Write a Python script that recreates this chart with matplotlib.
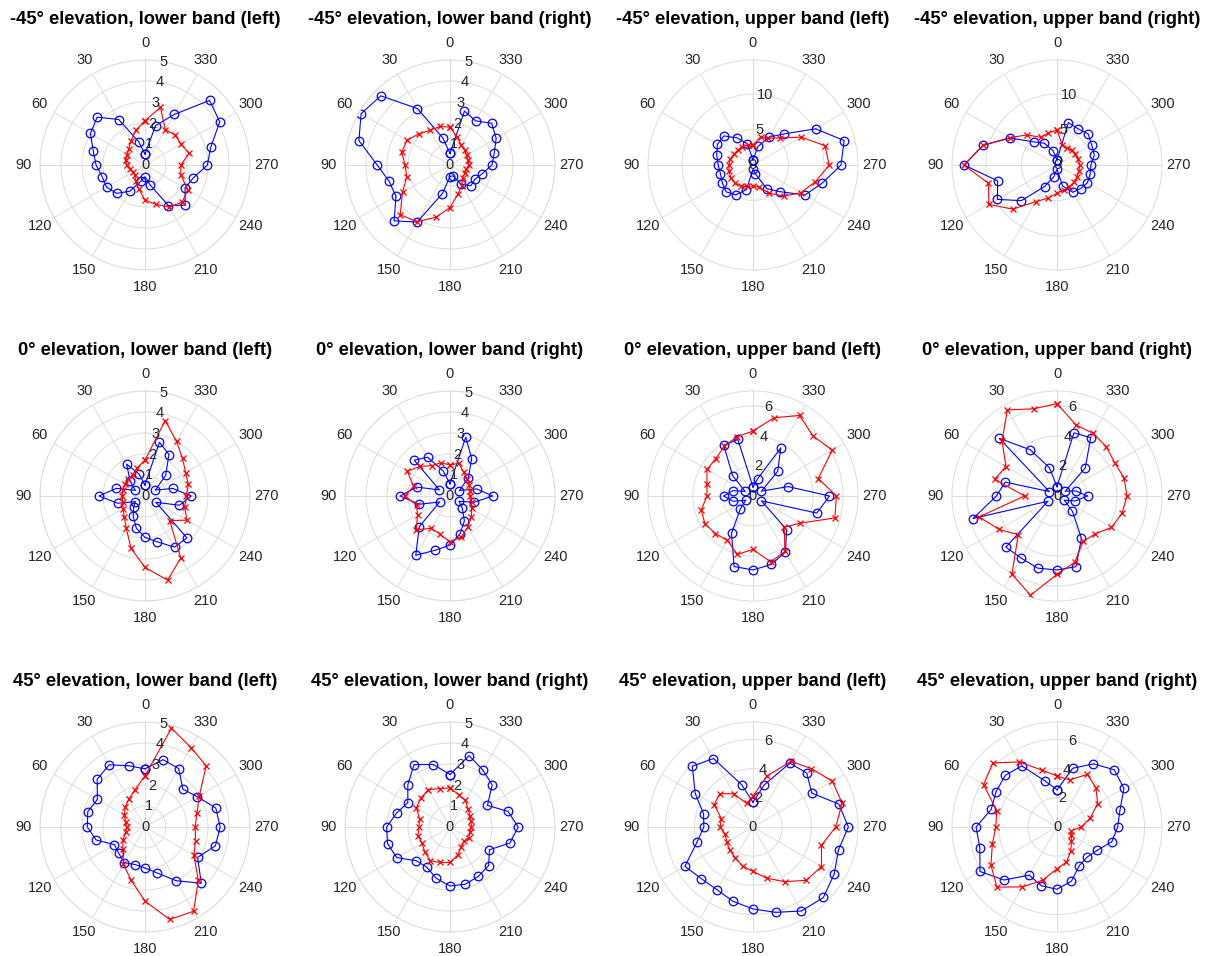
import matplotlib.pyplot as plt
import numpy as np

plt.rcParams["font.family"] = ["Liberation Sans", "DejaVu Sans"]

# measurement angles (degrees, counter-clockwise from the top)
angles = [0, 15, 30, 45, 60, 75, 90, 105, 120, 135, 150, 165,
          180, 195, 210, 225, 240, 255, 270, 285, 300, 315, 330, 345]

# -45 deg elevation
m45_low_left_o = [0.52, 1.14, 2.5, 3.22, 3.0, 2.55, 2.33, 2.12, 2.11, 1.91, 1.44, 0.81,
                  0.56, 1.0, 2.23, 2.71, 2.2, 2.38, 2.97, 3.24, 4.11, 4.35, 2.78, 1.94]
m45_low_left_x = [2.11, 1.71, 1.33, 1.1, 0.99, 0.93, 0.88, 0.75, 0.65, 0.67, 0.9, 1.16,
                  1.67, 1.94, 2.31, 2.5, 2.35, 1.76, 1.71, 2.17, 1.99, 2.02, 1.94, 2.84]
m45_low_right_o = [0.55, 1.34, 3.1, 4.66, 4.89, 4.49, 3.47, 3.0, 2.97, 3.76, 3.14, 1.41,
                   0.55, 0.53, 1.05, 1.4, 1.37, 1.59, 2.0, 2.18, 2.54, 2.81, 2.43, 2.66]
m45_low_right_x = [1.8, 1.9, 1.9, 2.1, 2.36, 2.38, 2.14, 2.13, 2.61, 3.35, 3.12, 2.57,
                   2.03, 1.44, 1.13, 0.85, 0.8, 0.8, 0.9, 0.9, 0.91, 1.0, 1.08, 1.36]
m45_up_left_o = [0.7, 3.1, 4.4, 5.8, 5.8, 5.3, 4.9, 4.75, 5.0, 5.35, 4.86, 3.6,
                 0.6, 1.3, 3.84, 5.3, 8.45, 10.05, 12.4, 13.3, 10.2, 6.2, 4.56, 2.7]
m45_up_left_x = [2.8, 2.9, 3.0, 3.0, 3.1, 3.3, 3.4, 3.5, 3.6, 3.6, 3.4, 3.1,
                 3.0, 3.2, 4.6, 6.2, 7.8, 9.1, 10.75, 10.5, 7.85, 5.4, 4.36, 4.1]
m45_up_right_o = [0.7, 2.07, 3.54, 4.6, 7.6, 10.75, 13.1, 8.66, 9.7, 7.1, 3.5, 1.7,
                  0.6, 3.06, 4.44, 4.7, 4.96, 4.84, 4.77, 5.45, 5.65, 6.2, 5.9, 6.2]
m45_up_right_x = [4.9, 4.7, 4.5, 6.0, 7.7, 10.8, 13.1, 10.0, 11.1, 8.8, 5.95, 4.84,
                  3.97, 3.7, 3.5, 3.4, 3.3, 3.2, 3.2, 3.1, 3.0, 2.9, 2.8, 2.9]

# 0 deg elevation
z_low_left_o = [0.52, 1.08, 1.75, 1.0, 0.53, 1.41, 2.19, 1.34, 0.53, 0.77, 1.12, 1.59,
                1.97, 2.26, 2.81, 2.82, 0.6, 1.7, 2.2, 1.38, 0.57, 1.39, 2.28, 2.65]
z_low_left_x = [1.71, 1.4, 1.18, 1.12, 1.1, 1.09, 1.08, 1.1, 1.2, 1.4, 1.78, 2.58,
                3.4, 4.15, 3.41, 1.66, 2.3, 1.96, 1.97, 2.14, 2.23, 2.53, 3.0, 3.72]
z_low_right_o = [0.58, 1.22, 2.13, 2.41, 0.58, 1.64, 2.38, 1.52, 0.57, 2.07, 3.26, 2.67,
                 2.34, 1.86, 1.37, 0.83, 0.5, 1.17, 2.03, 1.31, 0.52, 1.24, 2.06, 2.9]
z_low_right_x = [1.47, 1.65, 1.67, 2.0, 2.35, 1.79, 2.16, 1.65, 1.78, 2.27, 1.78, 1.88,
                 2.19, 2.03, 1.7, 1.44, 1.19, 1.06, 0.94, 1.0, 1.05, 1.16, 1.31, 1.62]
z_up_left_o = [0.6, 3.9, 3.9, 1.92, 0.61, 1.39, 1.96, 1.37, 0.56, 1.18, 2.86, 4.87,
               4.93, 4.72, 4.32, 3.17, 0.65, 4.4, 5.1, 2.42, 0.65, 2.33, 3.7, 1.2]
z_up_left_x = [4.33, 4.09, 3.82, 3.52, 3.54, 3.18, 3.07, 3.57, 3.7, 3.54, 3.42, 4.03,
               3.56, 4.55, 4.26, 2.94, 3.62, 5.65, 5.56, 4.5, 6.1, 5.66, 6.2, 5.4]
z_up_right_o = [0.62, 1.95, 3.55, 5.44, 0.59, 3.58, 4.04, 5.8, 0.69, 4.82, 4.78, 4.98,
                4.93, 4.88, 3.26, 1.46, 0.56, 1.27, 2.04, 1.3, 0.64, 2.67, 4.49, 4.36]
z_up_right_x = [6.16, 6.02, 6.62, 5.18, 3.93, 4.3, 2.16, 5.37, 4.46, 3.65, 6.01, 6.85,
                5.22, 4.57, 3.49, 3.58, 4.19, 4.48, 4.67, 4.63, 4.44, 4.65, 4.82, 4.9]

# +45 deg elevation
p45_low_left_o = [2.77, 3.02, 3.42, 3.22, 2.62, 2.82, 2.75, 2.4, 1.68, 1.77, 1.96, 1.85,
                  1.95, 2.27, 2.95, 3.79, 2.89, 3.47, 3.58, 3.49, 2.88, 2.55, 3.21, 3.32]
p45_low_left_x = [2.44, 1.84, 1.54, 1.33, 1.14, 0.95, 0.87, 0.95, 1.2, 1.5, 2.05, 2.6,
                  3.53, 4.56, 4.63, 3.59, 2.69, 2.49, 2.39, 2.56, 2.99, 4.12, 4.37, 4.87]
p45_low_right_o = [2.5, 3.08, 3.43, 2.84, 2.32, 2.62, 3.02, 3.08, 2.92, 2.27, 2.21, 2.53,
                   2.81, 2.82, 2.71, 2.6, 2.17, 2.95, 3.25, 2.86, 2.06, 2.84, 3.13, 3.52]
p45_low_right_x = [1.86, 1.89, 2.06, 1.95, 1.85, 1.5, 1.48, 1.58, 1.54, 1.69, 1.86, 1.75,
                   1.69, 1.39, 1.08, 0.95, 1.03, 0.98, 1.02, 1.03, 1.09, 1.22, 1.46, 1.59]
p45_up_left_o = [1.7, 3.0, 5.42, 5.89, 4.57, 3.51, 3.37, 3.97, 5.39, 5.01, 4.96, 5.28,
                 5.62, 6.06, 6.65, 6.83, 6.43, 6.07, 6.54, 6.09, 4.65, 5.22, 5.06, 2.99]
p45_up_left_x = [2.11, 1.67, 2.63, 3.23, 3.07, 2.25, 2.25, 1.97, 2.08, 2.24, 2.44, 2.78,
                 3.05, 3.63, 4.33, 5.17, 5.42, 4.86, 5.67, 6.33, 6.28, 5.66, 5.2, 3.6]
p45_up_right_o = [2.55, 3.29, 4.84, 5.01, 4.83, 4.67, 5.55, 5.48, 6.1, 5.14, 3.81, 4.17,
                  4.27, 3.84, 3.06, 2.92, 3.19, 3.89, 4.16, 4.47, 5.3, 5.55, 5.0, 4.17]
p45_up_right_x = [3.5, 4.04, 5.15, 6.22, 5.81, 4.27, 4.2, 4.59, 5.23, 5.83, 4.74, 3.77,
                  2.86, 2.49, 1.9, 1.4, 1.13, 1.02, 1.66, 2.35, 3.22, 3.78, 4.17, 3.34]

titles = [
    "-45° elevation, lower band (left)", "-45° elevation, lower band (right)",
    "-45° elevation, upper band (left)", "-45° elevation, upper band (right)",
    "0° elevation, lower band (left)", "0° elevation, lower band (right)",
    "0° elevation, upper band (left)", "0° elevation, upper band (right)",
    "45° elevation, lower band (left)", "45° elevation, lower band (right)",
    "45° elevation, upper band (left)", "45° elevation, upper band (right)",
]
circle_series = [m45_low_left_o, m45_low_right_o, m45_up_left_o, m45_up_right_o,
                 z_low_left_o, z_low_right_o, z_up_left_o, z_up_right_o,
                 p45_low_left_o, p45_low_right_o, p45_up_left_o, p45_up_right_o]
cross_series = [m45_low_left_x, m45_low_right_x, m45_up_left_x, m45_up_right_x,
                z_low_left_x, z_low_right_x, z_up_left_x, z_up_right_x,
                p45_low_left_x, p45_low_right_x, p45_up_left_x, p45_up_right_x]
r_max = [5, 5, 14.8, 14.8, 5, 5, 7.0, 7.0, 5, 5, 7.2, 7.2]
r_ticks = [[0, 1, 2, 3, 4, 5], [0, 1, 2, 3, 4, 5], [0, 5, 10], [0, 5, 10],
           [0, 1, 2, 3, 4, 5], [0, 1, 2, 3, 4, 5], [0, 2, 4, 6], [0, 2, 4, 6],
           [0, 1, 2, 3, 4, 5], [0, 1, 2, 3, 4, 5], [0, 2, 4, 6], [0, 2, 4, 6]]
theta_ticks = [0, 30, 60, 90, 120, 150, 180, 210, 240, 270, 300, 330]

W, H = 1209, 956
centre_x = [145, 450, 753, 1057]
centre_y = [165, 496, 827]
radius = 105
grid_colour = "#dcdcdc"
text_colour = "#262626"

figure = plt.figure(figsize=(W / 100, H / 100), dpi=100)

for i, title in enumerate(titles):
    cx = centre_x[i % 4]
    cy = centre_y[i // 4]
    axis = figure.add_axes(
        [(cx - radius) / W, 1 - (cy + radius) / H, 2 * radius / W, 2 * radius / H],
        projection="polar",
    )
    axis.set_theta_zero_location("N")
    axis.set_theta_direction(1)

    theta = np.deg2rad(angles + angles[:1])
    blue = circle_series[i] + circle_series[i][:1]
    red = cross_series[i] + cross_series[i][:1]
    axis.plot(theta, blue, color="blue", linewidth=0.8, marker="o",
              markersize=6.2, markerfacecolor="none", markeredgewidth=0.9)
    axis.plot(theta, red, color="red", linewidth=0.8, marker="x",
              markersize=4, markeredgewidth=0.9)

    axis.set_thetagrids(theta_ticks, [str(t) for t in theta_ticks])
    axis.set_ylim(0, r_max[i])
    axis.set_yticks(r_ticks[i])
    axis.set_yticklabels([])
    axis.tick_params(axis="x", labelsize=10.5, labelcolor=text_colour, pad=1.5)
    axis.grid(color=grid_colour, linewidth=0.7)
    axis.spines["polar"].set_color(grid_colour)
    axis.spines["polar"].set_linewidth(0.7)

    # radial labels sit on their rings, just clockwise of the top spoke
    for tick in r_ticks[i]:
        axis.text(np.deg2rad(-10), tick, str(tick), ha="center", va="center",
                  fontsize=10.5, color=text_colour)

    axis.text(0.5, 1.195, title, transform=axis.transAxes, ha="center",
              va="center", fontsize=13.2, fontweight="bold", color="black")

figure.savefig("out.png", dpi=100)
